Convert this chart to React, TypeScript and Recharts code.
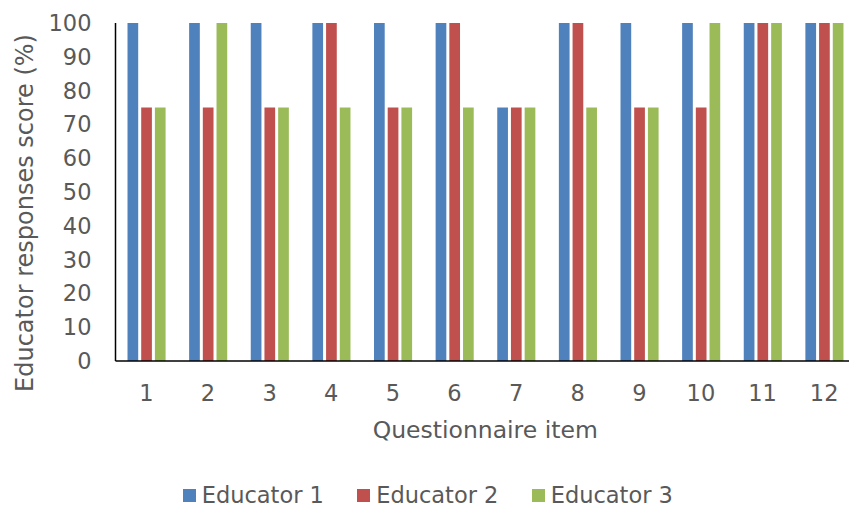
import React from 'react';
import { BarChart, Bar, XAxis, YAxis, Legend } from 'recharts';

// Questionnaire items and each educator's score (%)
const categories = ['1', '2', '3', '4', '5', '6', '7', '8', '9', '10', '11', '12'];
const educator1 = [100, 100, 100, 100, 100, 100, 75, 100, 100, 100, 100, 100];
const educator2 = [75, 75, 75, 100, 75, 100, 75, 100, 75, 75, 100, 100];
const educator3 = [75, 100, 75, 75, 75, 75, 75, 75, 75, 100, 100, 100];
const yTicks = [0, 10, 20, 30, 40, 50, 60, 70, 80, 90, 100];

const seriesNames = ['Educator 1', 'Educator 2', 'Educator 3'];
const colors = ['#4F81BD', '#C0504D', '#9BBB59'];

const data = categories.map((item, i) => ({
  item,
  e1: educator1[i],
  e2: educator2[i],
  e3: educator3[i],
}));

const FONT = '"DejaVu Sans", Verdana, sans-serif';
const TEXT = '#595959';
const LEGEND_H = 26.5;

const LegendContent = () => (
  <div style={{ position: 'relative', width: '100%', height: LEGEND_H, fontFamily: FONT }}>
    {seriesNames.map((name, i) => (
      <div
        key={name}
        style={{
          position: 'absolute',
          left: 182.7 + i * 174.5,
          top: 0,
          width: 160,
          height: LEGEND_H,
        }}
      >
        <span
          style={{
            position: 'absolute',
            left: 0,
            top: 7,
            width: 13,
            height: 13,
            background: colors[i],
          }}
        />
        <span
          style={{
            position: 'absolute',
            left: 19,
            top: 0,
            fontSize: 22.5,
            lineHeight: 'normal',
            color: TEXT,
            whiteSpace: 'nowrap',
          }}
        >
          {name}
        </span>
      </div>
    ))}
  </div>
);

export default function App() {
  return (
    <div style={{ position: 'absolute', left: 0, top: 0, width: 849, height: 508, overflow: 'hidden', background: '#fff' }}>
      <BarChart
        width={857}
        height={508}
        data={data}
        margin={{ top: 23, right: 2, bottom: 0, left: 0 }}
        barSize={10.7}
        barGap={3}
      >
        <XAxis
          dataKey="item"
          axisLine={{ stroke: '#000', strokeWidth: 1.5 }}
          tickLine={false}
          tickSize={0}
          tickMargin={24}
          height={147 - LEGEND_H}
          tick={{ fill: TEXT, fontSize: 22.5, fontFamily: FONT }}
          label={{
            value: 'Questionnaire item',
            position: 'insideTop',
            offset: 60,
            fill: TEXT,
            fontSize: 23.5,
            fontFamily: FONT,
          }}
        />
        <YAxis
          domain={[0, 100]}
          ticks={yTicks}
          interval={0}
          width={115.5}
          axisLine={{ stroke: '#000', strokeWidth: 1.5 }}
          tickLine={false}
          tickSize={0}
          tickMargin={24}
          tick={{ fill: TEXT, fontSize: 22.5, fontFamily: FONT }}
          label={{
            value: 'Educator responses score (%)',
            angle: -90,
            position: 'center',
            dx: -33,
            dy: 21,
            fill: TEXT,
            fontSize: 24,
            fontFamily: FONT,
          }}
        />
        <Legend
          verticalAlign="bottom"
          content={<LegendContent />}
          wrapperStyle={{ position: 'absolute', left: 0, top: 481.5, width: 857, height: LEGEND_H }}
        />
        <Bar dataKey="e1" name={seriesNames[0]} fill={colors[0]} isAnimationActive={false} />
        <Bar dataKey="e2" name={seriesNames[1]} fill={colors[1]} isAnimationActive={false} />
        <Bar dataKey="e3" name={seriesNames[2]} fill={colors[2]} isAnimationActive={false} />
      </BarChart>
    </div>
  );
}
